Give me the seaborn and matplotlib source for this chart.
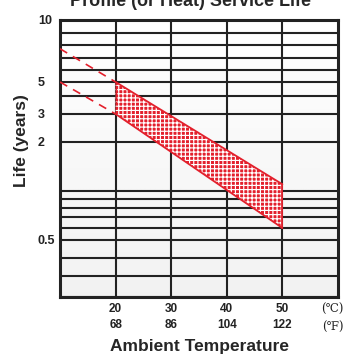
import numpy as np
import pandas as pd
import seaborn as sns
import matplotlib.pyplot as plt

# data
temp_c = [20, 30, 40, 50]
temp_f = [68, 86, 104, 122]
band_x = [20, 50]
band_upper = [5.0, 1.1]
band_lower = [3.0, 0.6]
dash_x = [10, 20]
dash_upper = [7.7, 5.0]
dash_lower = [5.0, 3.0]
ytick_vals = [10, 5, 3, 2, 0.5]
grid_vals = [0.2, 0.3, 0.4, 0.5, 0.6, 0.7, 0.8, 0.9, 1, 2, 3, 4, 5, 6, 7, 8, 9, 10]

# the printed grid is not a true log scale: pixel rows of each grid value
grid_rows = [297, 276, 258, 240, 228, 217, 208, 199, 191, 142, 114, 96, 82, 70, 58, 45, 33, 20]
_lg = np.log10(grid_vals)
_rw = -np.array(grid_rows, dtype=float)


def fwd(v):
    v = np.clip(np.asarray(v, dtype=float), 1e-6, None)
    return np.interp(np.log10(v), _lg, _rw, left=_rw[0], right=_rw[-1])


def inv(u):
    return 10 ** np.interp(u, _rw, _lg)


sns.set_style("white")
plt.rcParams['font.family'] = ['Liberation Sans', 'DejaVu Sans']

fig = plt.figure(figsize=(3.52, 3.54), dpi=100)
ax = fig.add_axes([60 / 352, 1 - 297 / 354, 278 / 352, 277 / 354])
ax.set_yscale('function', functions=(fwd, inv))

# light gray gradient background
grad = np.linspace(0, 1, 100).reshape(-1, 1)
ax.imshow(grad, cmap='Greys', vmin=0, vmax=9, extent=[0, 1, 0, 1],
          transform=ax.transAxes, aspect='auto', zorder=0)

red = '#e3202c'
grid_col = '#222222'

for g in grid_vals:
    ax.axhline(g, color=grid_col, lw=1.5, zorder=1)
for t in temp_c:
    ax.axvline(t, color=grid_col, lw=1.5, zorder=1)

# hatched band
plt.rcParams['hatch.linewidth'] = 0.85
ax.fill_between(band_x, band_lower, band_upper, facecolor=red, edgecolor='white',
                hatch='++++', linewidth=0, zorder=2)

df = pd.DataFrame({'x': band_x + band_x, 'y': band_upper + band_lower,
                   'edge': ['upper', 'upper', 'lower', 'lower']})
sns.lineplot(data=df, x='x', y='y', units='edge', estimator=None, color=red,
             lw=1.3, ax=ax, zorder=3)
ax.plot([band_x[1], band_x[1]], [band_lower[1], band_upper[1]], color=red, lw=1.3, zorder=3)
ax.plot([band_x[0], band_x[0]], [band_lower[0], band_upper[0]], color=red, lw=1.0,
        ls=(0, (2, 1.5)), zorder=3)
ax.plot(dash_x, dash_upper, color=red, lw=1.2, ls=(0, (5, 4)), zorder=3)
ax.plot(dash_x, dash_lower, color=red, lw=1.2, ls=(0, (5, 4)), zorder=3)

ax.set_xlim(10, 60)
ax.set_ylim(0.2, 10)

for s in ax.spines.values():
    s.set_visible(True)
    s.set_color(grid_col)
    s.set_linewidth(2.2)

xt = temp_c + [59]
xl = [f"{c}\n{f}" for c, f in zip(temp_c, temp_f)] + ["(\u2103)\n(\u2109)"]
ax.set_xticks(xt, xl)
ax.set_yticks(ytick_vals, [str(v) for v in ytick_vals])
ax.yaxis.set_minor_locator(plt.NullLocator())
ax.tick_params(axis='x', length=0, pad=4, labelsize=8.5)
ax.tick_params(axis='y', length=0, pad=16, labelsize=9)
for lab in ax.get_xticklabels():
    lab.set_fontweight('bold')
    lab.set_linespacing(1.5)
    lab.set_color('#222222')
ax.get_xticklabels()[-1].set_fontweight('normal')
ax.get_xticklabels()[-1].set_family(['DejaVu Serif', 'DejaVu Sans'])
for lab in ax.get_yticklabels():
    lab.set_ha('left')
    lab.set_fontweight('bold')
    lab.set_color('#222222')

ax.set_xlabel('Ambient Temperature', fontsize=12.5, fontweight='bold', labelpad=4)
ax.set_ylabel('Life (years)', fontsize=12.5, fontweight='bold', va='center')
ax.yaxis.set_label_coords((22 - 60) / 278, 0.565)

# the title sits partly above the top edge, as in the reference
fig.text(0.54, 1 - 6 / 354, 'Profile (or Heat) Service Life', ha='center',
         va='baseline', fontsize=13, fontweight='bold')

fig.savefig('out.png', dpi=100)
